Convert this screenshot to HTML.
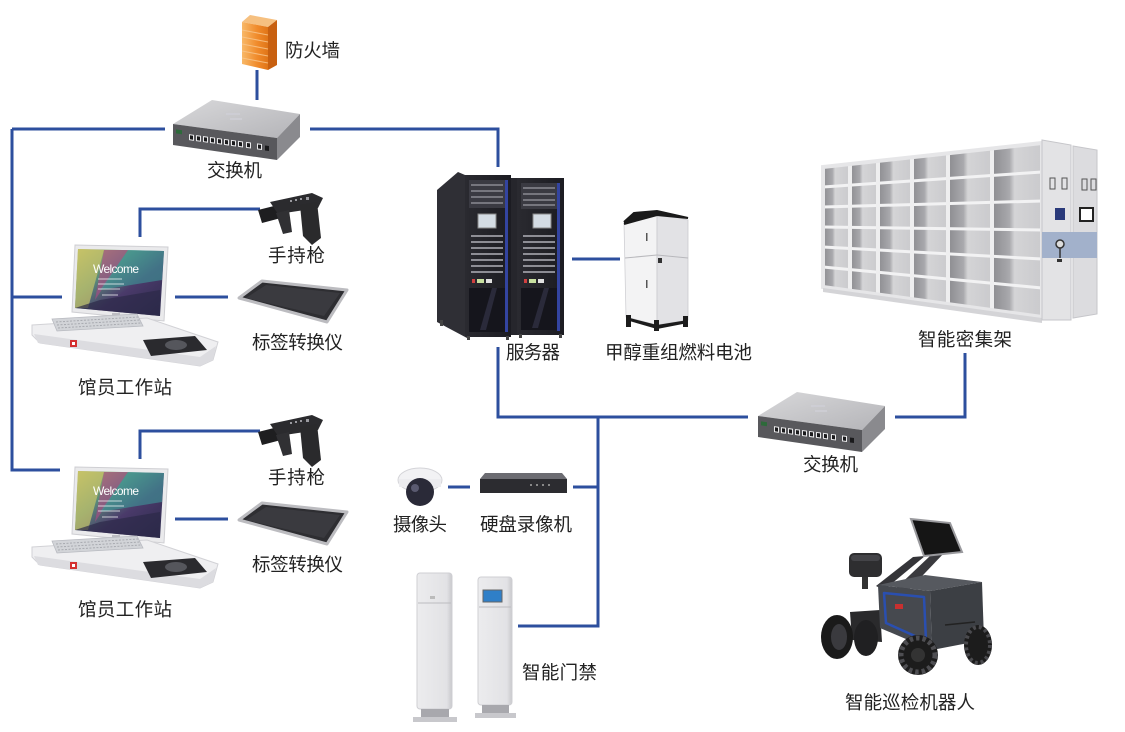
<!DOCTYPE html>
<html><head><meta charset="utf-8">
<style>
html,body{margin:0;padding:0;background:#fff;}
svg{display:block}
.lb{font-family:"Liberation Sans","Noto Sans CJK SC",sans-serif;font-size:18.5px;fill:#222}
</style></head><body>
<svg width="1125" height="732" viewBox="0 0 1125 732" xmlns="http://www.w3.org/2000/svg">
<defs>
<linearGradient id="fw" x1="0" x2="1"><stop offset="0" stop-color="#f8b868"/><stop offset="0.6" stop-color="#f08a2a"/><stop offset="1" stop-color="#e07518"/></linearGradient>
<linearGradient id="swtop" x1="0" y1="0" x2="1" y2="1"><stop offset="0" stop-color="#d8d8da"/><stop offset="1" stop-color="#b4b4b8"/></linearGradient>
<linearGradient id="cell" x1="0" x2="1"><stop offset="0" stop-color="#8c8c90"/><stop offset="0.35" stop-color="#a9a9ad"/><stop offset="0.45" stop-color="#d4d4d6"/><stop offset="1" stop-color="#cacacd"/></linearGradient>
<linearGradient id="rack" x1="0" x2="1"><stop offset="0" stop-color="#2a2a30"/><stop offset="1" stop-color="#1c1c22"/></linearGradient>
<linearGradient id="scr" x1="0" y1="0" x2="1" y2="1"><stop offset="0" stop-color="#c8c060"/><stop offset="0.35" stop-color="#5a8a7a"/><stop offset="0.6" stop-color="#4a3a6a"/><stop offset="1" stop-color="#2a2a4a"/></linearGradient>
<linearGradient id="gate" x1="0" x2="1"><stop offset="0" stop-color="#ececee"/><stop offset="0.85" stop-color="#e2e2e5"/><stop offset="1" stop-color="#c8c8cc"/></linearGradient>

<g id="sw">
 <polygon points="173,124 212,100 300,114 277,138" fill="url(#swtop)"/>
 <polygon points="173,124 277,138 277,160 173,145" fill="#58585c"/>
 <polygon points="277,138 300,114 300,137 277,160" fill="#8a8a8e"/>
 <g fill="#cfcfd6" opacity="0.8"><rect x="226" y="113" width="14" height="2"/><rect x="230" y="118" width="12" height="2"/></g>
 <g transform="translate(173,124) skewY(7.7)">
  <rect x="3" y="5" width="6" height="4" fill="#2d6a3a"/>
  <g fill="#e8e8ea"><rect x="16" y="8" width="5" height="6"/><rect x="23" y="8" width="5" height="6"/><rect x="30" y="8" width="5" height="6"/><rect x="37" y="8" width="5" height="6"/><rect x="44" y="8" width="5" height="6"/><rect x="51" y="8" width="5" height="6"/><rect x="58" y="8" width="5" height="6"/><rect x="65" y="8" width="5" height="6"/><rect x="73" y="8" width="5" height="6"/><rect x="84" y="8" width="5" height="6"/></g>
  <g fill="#1a1a1c"><rect x="17" y="9" width="3" height="4"/><rect x="24" y="9" width="3" height="4"/><rect x="31" y="9" width="3" height="4"/><rect x="38" y="9" width="3" height="4"/><rect x="45" y="9" width="3" height="4"/><rect x="52" y="9" width="3" height="4"/><rect x="59" y="9" width="3" height="4"/><rect x="66" y="9" width="3" height="4"/><rect x="74" y="9" width="3" height="4"/><rect x="85" y="9" width="3" height="4"/><rect x="92" y="9" width="4" height="5"/></g>
 </g>
</g>

<g id="ws">
 <!-- monitor -->
 <polygon points="75,245 168,247 164,321 72,312" fill="#eaeaec" stroke="#cfcfd3"/>
 <polygon points="78,249 164,251 160,316 75,308" fill="url(#scr)"/>
 <polygon points="78,249 104,250 88,308 75,308" fill="#c8c46a" opacity="0.7"/>
 <polygon points="104,250 128,250 95,300" fill="#b04a86" opacity="0.6"/>
 <polygon points="128,250 164,251 162,280 100,290" fill="#3e9a9a" opacity="0.6"/>
 <polygon points="100,300 160,290 160,316 75,308" fill="#2c2a48" opacity="0.7"/>
 <g stroke="#fff" stroke-width="1" opacity="0.7"><line x1="98" y1="279" x2="122" y2="279"/><line x1="98" y1="284" x2="124" y2="284"/><line x1="98" y1="289" x2="120" y2="289"/><line x1="102" y1="295" x2="118" y2="295"/></g>
 <rect x="112" y="313" width="8" height="8" fill="#bdbdc2"/>
 <!-- base -->
 <polygon points="32,325 147,318 218,342 213,360 200,366 40,343 32,335" fill="#efeff1" stroke="#d2d2d6"/>
 <polygon points="34,334 200,357 216,346 213,360 200,366 38,343" fill="#dcdce0"/>
 <polygon points="52,319 137,314 143,326 57,331" fill="#d2d4d8" stroke="#b8bac0" stroke-width="0.8"/>
 <g stroke="#a8aab0" stroke-width="1" stroke-dasharray="2 1.5"><line x1="56" y1="322" x2="138" y2="317"/><line x1="57" y1="325" x2="140" y2="320"/><line x1="58" y1="328" x2="141" y2="323"/></g>
 <polygon points="143,340 195,336 207,350 151,356" fill="#2a2a2e"/>
 <ellipse cx="176" cy="345" rx="11" ry="5" fill="#55565c"/>
 <rect x="70" y="340" width="7" height="7" fill="#d43030"/>
 <rect x="72" y="342" width="3" height="3" fill="#fff"/>
 <!-- gun -->
 <polygon points="258,210 278,205 281,218 262,223" fill="#1e1e20"/>
 <polygon points="270,202 312,193 323,198 318,208 278,214" fill="#2b2b2e"/>
 <g fill="#9a9aa0"><rect x="290" y="200" width="2" height="2"/><rect x="295" y="199" width="2" height="2"/><rect x="300" y="198" width="2" height="2"/><rect x="306" y="197" width="3" height="3"/></g>
 <polygon points="276,213 289,210 292,232 283,234" fill="#303033"/>
 <polygon points="300,205 317,202 321,238 312,245 303,236" fill="#2a2a2c"/>
 <!-- tag converter -->
 <polygon points="262,281 347,290 327,322 239,298" fill="#2e2e32" stroke="#bcbcc0" stroke-width="3" stroke-linejoin="round"/>
 <polygon points="266,285 340,293 324,316 246,298" fill="#3a3a3f"/>
</g>
</defs>

<!-- connector lines -->
<g stroke="#2d4f9e" stroke-width="3" fill="none" stroke-linejoin="miter">
<path d="M257 70V100"/>
<path d="M12 129H165"/>
<path d="M310 129H498V167"/>
<path d="M12 129V470H60"/>
<path d="M12 297H62"/>
<path d="M140 237V209H260"/>
<path d="M175 297H228"/>
<path d="M140 459V431H260"/>
<path d="M175 519H228"/>
<path d="M498 347V417H748"/>
<path d="M895 417H965V353"/>
<path d="M572 259H620"/>
<path d="M598 417V626H518"/>
<path d="M573 487H598"/>
<path d="M448 487H470"/>
</g>

<!-- firewall -->
<polygon points="242,22 250,15 277,20 268,27" fill="#f6c080"/>
<polygon points="242,22 268,27 268,70 242,64" fill="url(#fw)"/>
<polygon points="268,27 277,20 277,65 268,70" fill="#c86010"/>
<g stroke="#f9c890" stroke-width="1" opacity="0.8">
<line x1="242" y1="30" x2="268" y2="35"/><line x1="242" y1="37" x2="268" y2="42"/><line x1="242" y1="44" x2="268" y2="49"/><line x1="242" y1="51" x2="268" y2="56"/><line x1="242" y1="58" x2="268" y2="63"/>
</g>

<!-- switches -->
<use href="#sw"/>
<use href="#sw" transform="translate(585,292)"/>

<!-- workstations -->
<use href="#ws"/>
<use href="#ws" transform="translate(0,222)"/>
<text x="93" y="273" font-family="Liberation Sans,sans-serif" font-size="12" fill="#fff" textLength="46">Welcome</text>
<text x="93" y="495" font-family="Liberation Sans,sans-serif" font-size="12" fill="#fff" textLength="46">Welcome</text>

<!-- servers -->
<polygon points="437,190 458,172 465,175 467,338 437,322" fill="#2f2f35"/>
<rect x="465" y="175" width="46" height="162" fill="url(#rack)"/>
<rect x="469" y="180" width="36" height="28" fill="#3a3a42"/>
<g stroke="#9a9aa2" stroke-width="1.2"><line x1="471" y1="185" x2="503" y2="185"/><line x1="471" y1="191" x2="503" y2="191"/><line x1="471" y1="197" x2="503" y2="197"/><line x1="471" y1="203" x2="503" y2="203"/></g>
<rect x="478" y="214" width="18" height="14" fill="#d4dce4" stroke="#888" stroke-width="1"/>
<g stroke="#b0b0b8" stroke-width="1.5"><line x1="471" y1="236" x2="503" y2="236"/><line x1="471" y1="242" x2="503" y2="242"/><line x1="471" y1="248" x2="503" y2="248"/><line x1="471" y1="254" x2="503" y2="254"/><line x1="471" y1="260" x2="503" y2="260"/><line x1="471" y1="266" x2="503" y2="266"/><line x1="471" y1="272" x2="503" y2="272"/></g>
<rect x="472" y="279" width="3" height="4" fill="#d04040"/><rect x="477" y="279" width="7" height="4" fill="#c8e0a0"/><rect x="486" y="279" width="6" height="4" fill="#e0e0e0"/>
<rect x="469" y="288" width="36" height="44" fill="#15151c"/>
<polygon points="480,330 492,288 497,288 486,330" fill="#2a2a3a"/>
<rect x="505" y="180" width="3" height="152" fill="#3344a0"/>
<rect x="511" y="178" width="6" height="157" fill="#26262c"/>
<rect x="517" y="178" width="47" height="157" fill="url(#rack)"/>
<rect x="521" y="183" width="36" height="26" fill="#3a3a42"/>
<g stroke="#9a9aa2" stroke-width="1.2"><line x1="523" y1="188" x2="555" y2="188"/><line x1="523" y1="194" x2="555" y2="194"/><line x1="523" y1="200" x2="555" y2="200"/><line x1="523" y1="205" x2="555" y2="205"/></g>
<rect x="533" y="214" width="18" height="14" fill="#d4dce4" stroke="#888" stroke-width="1"/>
<g stroke="#b0b0b8" stroke-width="1.5"><line x1="523" y1="236" x2="555" y2="236"/><line x1="523" y1="242" x2="555" y2="242"/><line x1="523" y1="248" x2="555" y2="248"/><line x1="523" y1="254" x2="555" y2="254"/><line x1="523" y1="260" x2="555" y2="260"/><line x1="523" y1="266" x2="555" y2="266"/><line x1="523" y1="272" x2="555" y2="272"/></g>
<rect x="524" y="279" width="3" height="4" fill="#d04040"/><rect x="529" y="279" width="7" height="4" fill="#c8e0a0"/><rect x="538" y="279" width="6" height="4" fill="#e0e0e0"/>
<rect x="521" y="288" width="36" height="42" fill="#15151c"/>
<polygon points="532,328 544,288 549,288 538,328" fill="#2a2a3a"/>
<rect x="557" y="183" width="3" height="148" fill="#3344a0"/>
<g fill="#444"><rect x="440" y="320" width="3" height="6"/><rect x="467" y="336" width="3" height="4"/><rect x="506" y="336" width="3" height="4"/><rect x="519" y="334" width="3" height="4"/><rect x="559" y="334" width="3" height="4"/></g>

<!-- fuel cell -->
<polygon points="624,222 657,213 657,325 626,317" fill="#f3f3f4" stroke="#d0d0d4" stroke-width="0.8"/>
<polygon points="657,213 688,220 688,320 657,325" fill="#e2e2e5" stroke="#cacace" stroke-width="0.8"/>
<polyline points="624,222 634,213 657,211 688,218 657,215 624,224" fill="#1a1a1a" stroke="#1a1a1a" stroke-width="2"/>
<line x1="625" y1="258" x2="657" y2="255" stroke="#b8b8bc"/><line x1="657" y1="255" x2="688" y2="258" stroke="#b8b8bc"/>
<rect x="658" y="258" width="4" height="5" fill="#333"/>
<rect x="646" y="233" width="1.5" height="8" fill="#555"/><rect x="646" y="280" width="1.5" height="8" fill="#555"/>
<g fill="#1c1c1c"><rect x="626" y="315" width="5" height="12"/><rect x="654" y="320" width="5" height="11"/><rect x="683" y="316" width="5" height="11"/><polygon points="626,317 657,325 688,320 688,323 657,329 626,320"/></g>

<!-- shelf -->
<g>
<polygon points="823,167 850,164 850,290.7 823,287" fill="url(#cell)"/>
<polygon points="850,164 878,161 878,294.5 850,290.7" fill="url(#cell)"/>
<polygon points="878,161 912,157.3 912,299.2 878,294.5" fill="url(#cell)"/>
<polygon points="912,157.3 948,153.3 948,304.1 912,299.2" fill="url(#cell)"/>
<polygon points="948,153.3 992,148.5 992,310.2 948,304.1" fill="url(#cell)"/>
<polygon points="992,148.5 1042,143 1042,317 992,310.2" fill="url(#cell)"/>
<g stroke="#f2f2f3" stroke-width="3">
<line x1="823" y1="187" x2="1042" y2="172"/>
<line x1="823" y1="207" x2="1042" y2="201"/>
<line x1="823" y1="227" x2="1042" y2="230"/>
<line x1="823" y1="247" x2="1042" y2="259"/>
<line x1="823" y1="267" x2="1042" y2="288"/>
</g>
<g stroke="#eeeeef" stroke-width="4">
<line x1="850" y1="164" x2="850" y2="290.7"/>
<line x1="878" y1="161" x2="878" y2="294.5"/>
<line x1="912" y1="157.3" x2="912" y2="299.2"/>
<line x1="948" y1="153.3" x2="948" y2="304.1"/>
<line x1="992" y1="148.5" x2="992" y2="310.2"/>
</g>
<polygon points="823,167 1042,143 1042,317 823,287" fill="none" stroke="#e6e6e8" stroke-width="4"/>
<polygon points="823,288 1042,318 1042,323 823,292" fill="#d4d4d7"/>
<polygon points="1042,140 1071,145 1071,320 1042,320" fill="#e3e3e5" stroke="#c6c6ca"/>
<polygon points="1073,146 1097,150 1097,314 1073,318" fill="#dcdcdf" stroke="#c6c6ca"/>
<rect x="1042" y="232" width="55" height="26" fill="#a2b1cb"/>
<g fill="none" stroke="#555" stroke-width="1"><rect x="1050" y="178" width="5" height="11"/><rect x="1062" y="178" width="5" height="11"/><rect x="1082" y="179" width="5" height="11"/><rect x="1091" y="179" width="5" height="11"/></g>
<rect x="1055" y="208" width="10" height="12" fill="#2a3a7a"/>
<rect x="1080" y="208" width="13" height="13" fill="#fff" stroke="#222" stroke-width="2"/>
<circle cx="1060" cy="244" r="4" fill="#ddd" stroke="#333" stroke-width="1.5"/>
<line x1="1060" y1="248" x2="1060" y2="258" stroke="#333" stroke-width="1.5"/>
<rect x="1057" y="259" width="5" height="3" fill="#333"/>
</g>

<!-- camera -->
<ellipse cx="420" cy="480" rx="22" ry="12" fill="#f2f2f4" stroke="#d4d4d8"/>
<rect x="399" y="479" width="42" height="8" fill="#ececef"/>
<circle cx="420" cy="492" r="14" fill="#2a2a38"/>
<circle cx="415" cy="488" r="4" fill="#5a5a70"/>

<!-- NVR -->
<polygon points="485,473 562,473 567,479 480,479" fill="#6c6c72"/>
<rect x="480" y="479" width="87" height="14" fill="#2c2c30"/>
<g fill="#888"><rect x="530" y="484" width="2" height="2"/><rect x="536" y="484" width="2" height="2"/><rect x="542" y="484" width="2" height="2"/><rect x="548" y="484" width="2" height="2"/></g>

<!-- gates -->
<rect x="417" y="573" width="35" height="136" rx="3" fill="url(#gate)" stroke="#cfcfd3"/>
<line x1="418" y1="603" x2="451" y2="603" stroke="#bcbcc0"/>
<rect x="430" y="596" width="5" height="3" fill="#bbb"/>
<rect x="421" y="709" width="28" height="9" fill="#a8a8ad"/>
<rect x="413" y="717" width="44" height="5" fill="#c8c8cc"/>
<rect x="478" y="577" width="34" height="128" rx="3" fill="url(#gate)" stroke="#cfcfd3"/>
<rect x="483" y="590" width="19" height="12" fill="#2f7fc8" stroke="#666"/>
<line x1="479" y1="607" x2="511" y2="607" stroke="#bcbcc0"/>
<rect x="482" y="705" width="27" height="9" fill="#a8a8ad"/>
<rect x="475" y="713" width="41" height="5" fill="#c8c8cc"/>

<!-- robot -->
<polygon points="930,556 945,552 905,594 892,592" fill="#3a3a3e"/>
<polygon points="913,557 925,556 884,590 876,586" fill="#343438"/>
<polygon points="911,519 950,523 962,552 924,556" fill="#151515" stroke="#9a9a9e" stroke-width="2"/>
<rect x="849" y="553" width="33" height="24" rx="5" fill="#2e2e30"/>
<rect x="851" y="555" width="29" height="6" rx="3" fill="#444448"/>
<rect x="862" y="577" width="6" height="12" fill="#333"/>
<polygon points="850,612 880,610 882,642 852,640" fill="#2a2a2c"/>
<polygon points="878,585 925,575 982,582 930,591" fill="#56595f"/>
<polygon points="930,591 982,582 984,640 932,650" fill="#3c3f44"/>
<polygon points="878,585 930,591 932,650 880,628" fill="#46494f"/>
<polygon points="884,593 924,597 926,641 886,623" fill="none" stroke="#2a4fb0" stroke-width="2.5" stroke-linejoin="round"/>
<rect x="895" y="604" width="8" height="5" fill="#c83030"/>
<line x1="945" y1="625" x2="975" y2="622" stroke="#222" stroke-width="1.5"/>
<ellipse cx="866" cy="638" rx="12" ry="18" fill="#202022"/>
<ellipse cx="837" cy="637" rx="16" ry="22" fill="#1a1a1a"/>
<ellipse cx="839" cy="637" rx="8" ry="13" fill="#3a3a3e"/>
<ellipse cx="978" cy="645" rx="14" ry="20" fill="#1c1c1c"/>
<ellipse cx="978" cy="645" rx="12" ry="18" fill="none" stroke="#4a4a4e" stroke-width="4" stroke-dasharray="3 3"/>
<circle cx="918" cy="655" r="20" fill="#1c1c1c"/>
<circle cx="918" cy="655" r="17" fill="none" stroke="#4e4e52" stroke-width="5" stroke-dasharray="3.5 3"/>
<circle cx="918" cy="655" r="7" fill="#333"/>

<!-- labels -->
<g class="lb">
<text class="lb" x="285" y="57" textLength="55">防火墙</text>
<text class="lb" x="207" y="177" textLength="55">交换机</text>
<text class="lb" x="268" y="262" textLength="57">手持枪</text>
<text class="lb" x="252" y="349" textLength="91">标签转换仪</text>
<text class="lb" x="78" y="394" textLength="94">馆员工作站</text>
<text class="lb" x="268" y="484" textLength="57">手持枪</text>
<text class="lb" x="252" y="571" textLength="91">标签转换仪</text>
<text class="lb" x="78" y="616" textLength="94">馆员工作站</text>
<text class="lb" x="506" y="359" textLength="54">服务器</text>
<text class="lb" x="605" y="359" textLength="147">甲醇重组燃料电池</text>
<text class="lb" x="918" y="346" textLength="94">智能密集架</text>
<text class="lb" x="803" y="471" textLength="55">交换机</text>
<text class="lb" x="393" y="531" textLength="54">摄像头</text>
<text class="lb" x="480" y="531" textLength="92">硬盘录像机</text>
<text class="lb" x="522" y="679" textLength="75">智能门禁</text>
<text class="lb" x="845" y="709" textLength="130">智能巡检机器人</text>
</g>
</svg>
</body></html>
